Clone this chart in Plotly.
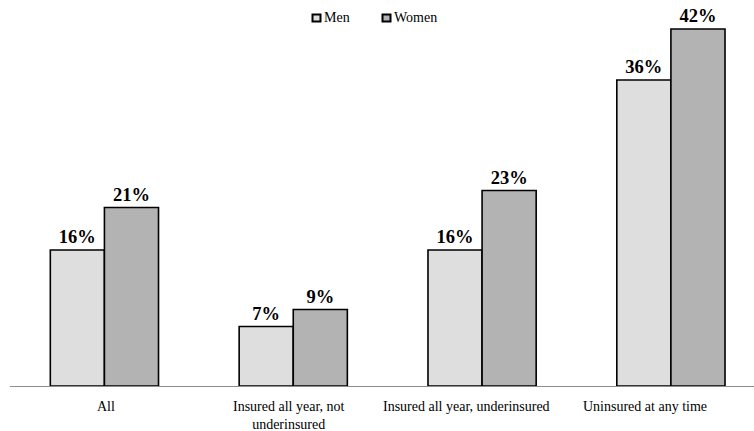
import plotly.graph_objects as go

categories = ["All", "Insured all year, not<br>underinsured", "Insured all year, underinsured", "Uninsured at any time"]
men = [16, 7, 16, 36]
women = [21, 9, 23, 42]
series_names = ["Men", "Women"]
series_colors = ["#dedede", "#b3b3b3"]

xpos = list(range(len(categories)))
font_family = "Liberation Serif"

W, H = 754, 431
ML, MR, MT, MB = 10, 0, 12, 45


def px_x(p):
    return (p - ML) / (W - ML - MR)


def px_y(p):
    return (H - MB - p) / (H - MT - MB)


fig = go.Figure()
for name, vals, color in zip(series_names, [men, women], series_colors):
    fig.add_trace(go.Bar(
        x=xpos, y=vals, name=name,
        marker=dict(color=color, line=dict(color="#000000", width=1.6)),
        text=[f"{v}%" for v in vals], textposition="outside",
        textfont=dict(family=font_family, size=18.5, color="#000000", weight="bold"),
        cliponaxis=False, showlegend=False,
    ))

# custom legend (small squares + labels), like the original
legend_left = [312.5, 382.5]
for name, color, lx in zip(series_names, series_colors, legend_left):
    fig.add_shape(type="rect", xref="paper", yref="paper",
                  x0=px_x(lx), x1=px_x(lx + 8), y0=px_y(21.5), y1=px_y(14.5),
                  fillcolor=color, line=dict(color="#000000", width=2))
    fig.add_annotation(xref="paper", yref="paper", x=px_x(lx + 9), y=px_y(17.5),
                       xanchor="left", yanchor="middle", text=name, showarrow=False,
                       font=dict(family=font_family, size=14, color="#000000"))

# category labels (slightly off-centre, as in the original)
label_shift = [1.5, -4.5, -16, -26]
for xv, lab, sh in zip(xpos, categories, label_shift):
    fig.add_annotation(xref="x", yref="y", x=xv, y=0, xanchor="center", yanchor="top",
                       xshift=sh, yshift=-11, text=lab, showarrow=False, align="center",
                       font=dict(family=font_family, size=14, color="#000000"))

fig.update_layout(
    width=W, height=H,
    margin=dict(l=ML, r=MR, t=MT, b=MB, autoexpand=False),
    paper_bgcolor="white", plot_bgcolor="white",
    barmode="group", bargap=0.427, bargroupgap=0,
    font=dict(family=font_family, size=14, color="#000000"),
    showlegend=False,
    xaxis=dict(range=[-0.5, 3.44], tickmode="array", tickvals=xpos,
               showticklabels=False,
               showline=True, linecolor="#8c8c8c", linewidth=1, showgrid=False, zeroline=False,
               ticks=""),
    yaxis=dict(range=[0, 44], visible=False, showgrid=False, zeroline=False),
)

fig.write_html("out.html", config={"displayModeBar": False},
               post_script="document.body.style.margin='0';document.body.style.overflow='hidden';")
